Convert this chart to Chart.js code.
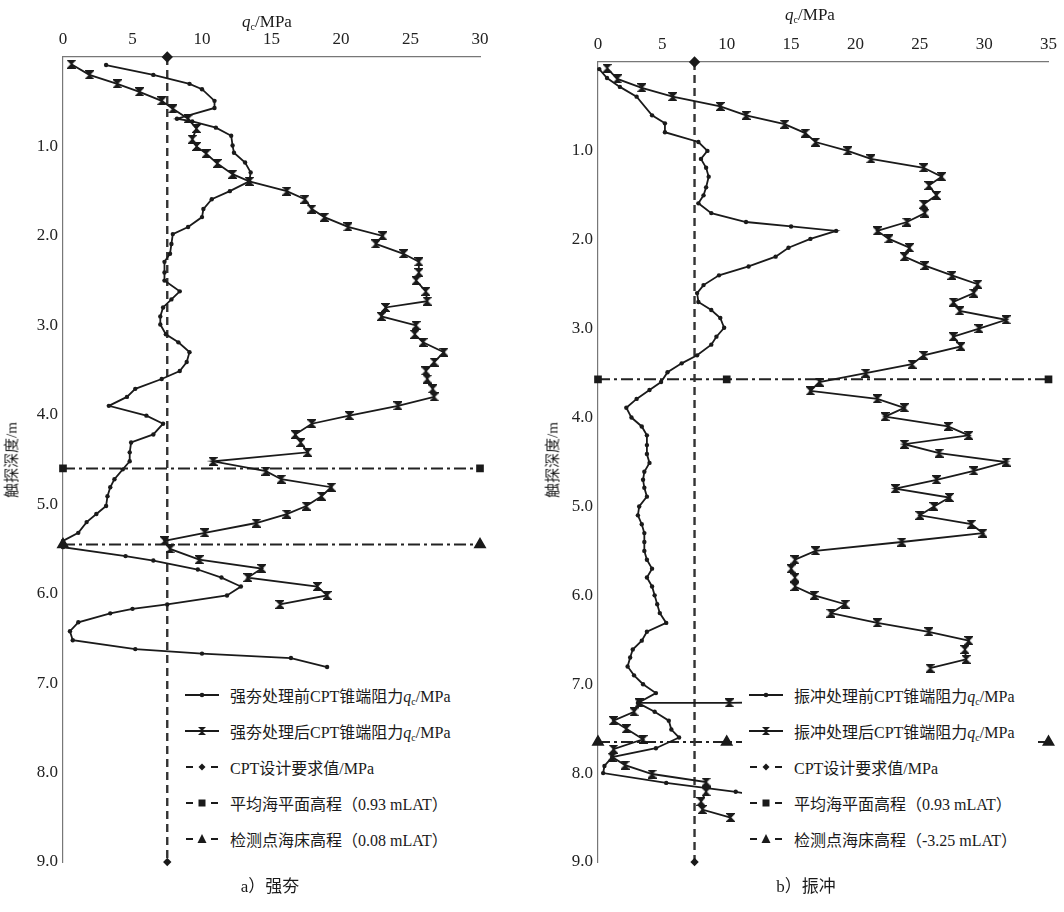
<!DOCTYPE html>
<html>
<head>
<meta charset="utf-8">
<script src="https://cdn.jsdelivr.net/npm/chart.js@4.4.1/dist/chart.umd.min.js"></script>
<style>
  body { margin: 0; background: #fff; }
  #wrap { position: relative; width: 1064px; height: 912px; overflow: hidden;
          font-family: 'Liberation Serif', 'Noto Sans CJK SC', serif; color: #1a1a1a; }
  #wrap canvas { position: absolute; top: 0; }
  .txt { position: absolute; white-space: nowrap; line-height: 1; }
  .ctr { transform: translate(-50%, -50%); }
  .vert { transform: translate(-50%, -50%) rotate(-90deg); }
  .legend { position: absolute; background: #fff; }
  .legend .row { display: flex; align-items: center; height: 36px; font-size: 16px; white-space: nowrap; }
  .legend svg { flex: none; margin: 0 10px 0 6px; }
  sub { font-size: 10px; vertical-align: -3px; line-height: 0; }
  i { font-style: italic; }
</style>
</head>
<body>
<div id="wrap">
  <canvas id="cLeft" width="520" height="880" style="left:0px"></canvas>
  <canvas id="cRight" width="534" height="880" style="left:530px"></canvas>

  <div class="txt ctr" style="left:267px;top:21px;font-size:17px"><i>q</i><sub>c</sub>/MPa</div>
  <div class="txt ctr" style="left:810px;top:14px;font-size:17px"><i>q</i><sub>c</sub>/MPa</div>
  <div class="txt vert" style="left:12px;top:460px;font-size:15px">触探深度/m</div>
  <div class="txt vert" style="left:553px;top:460px;font-size:15px">触探深度/m</div>
  <div class="txt ctr" style="left:270px;top:886px;font-size:17px">a）强夯</div>
  <div class="txt ctr" style="left:806px;top:886px;font-size:17px">b）振冲</div>

  <div id="legLeft" class="legend" style="left:178px;top:677px;width:322px;height:185px"></div>
  <div id="legRight" class="legend" style="left:742px;top:677px;width:296px;height:185px"></div>
</div>

<script>
// ---- 强夯 (dynamic compaction) CPT profile: depth in m, cone resistance qc in MPa ----
const leftDepthBefore = [0.09,0.20,0.30,0.36,0.49,0.57,0.69,0.72,0.79,0.88,
  0.99,1.07,1.18,1.29,1.39,1.50,1.59,1.70,1.79,1.90,
  1.98,2.09,2.20,2.29,2.41,2.50,2.62,2.71,2.80,2.90,
  2.99,3.10,3.19,3.30,3.41,3.51,3.60,3.71,3.80,3.90,
  4.01,4.10,4.22,4.31,4.42,4.52,4.61,4.72,4.81,4.91,
  5.02,5.11,5.20,5.32,5.41,5.48,5.58,5.63,5.73,5.82,
  5.92,6.02,6.12,6.17,6.22,6.32,6.42,6.52,6.62,6.67,
  6.72,6.82];
const leftQcBefore = [3.1,6.5,9.1,10.0,10.9,10.9,8.2,9.3,11.0,12.1,
  12.2,12.3,13.1,13.5,13.4,12.0,10.7,10.1,10.0,9.0,
  7.9,7.8,7.7,7.3,7.3,7.3,8.4,7.8,7.2,7.0,
  7.0,7.4,8.3,9.1,8.9,8.4,7.1,5.2,4.6,3.3,
  6.0,7.2,6.5,4.9,4.8,4.8,4.3,3.7,3.4,3.2,
  3.1,2.4,1.7,1.1,0.0,0.0,4.5,6.5,9.7,11.4,
  12.8,11.8,7.5,5.0,3.4,1.1,0.5,0.7,5.2,10.0,
  16.4,19.0];
const leftDepthAfter = [0.08,0.20,0.30,0.39,0.49,0.58,0.69,0.80,0.92,1.00,
  1.08,1.19,1.31,1.39,1.50,1.59,1.70,1.79,1.90,2.00,
  2.09,2.20,2.29,2.41,2.50,2.62,2.73,2.80,2.90,3.00,
  3.10,3.19,3.30,3.41,3.51,3.60,3.71,3.80,3.90,4.01,
  4.10,4.22,4.31,4.42,4.52,4.63,4.72,4.81,4.91,5.02,
  5.11,5.21,5.32,5.41,5.50,5.62,5.72,5.82,5.92,6.02,
  6.12];
const leftQcAfter = [0.6,1.9,3.9,5.5,7.1,7.9,9.0,9.6,9.3,9.6,
  10.3,11.1,12.2,13.4,16.1,17.4,17.9,18.8,20.5,23.0,
  22.5,24.5,25.6,25.6,25.4,26.1,26.2,23.2,22.9,25.4,
  25.3,25.9,27.4,26.7,26.1,26.2,26.6,26.7,24.1,20.6,
  17.9,16.7,17.1,17.6,10.8,14.6,15.7,19.3,18.6,17.5,
  16.1,13.9,10.2,7.3,7.7,9.8,14.3,13.3,18.3,19.0,
  15.6];
const leftDesignQc = 7.5;
const leftSeaLevelDepth = 4.60;   // 平均海平面 0.93 mLAT
const leftSeabedDepth = 5.45;     // 海床 0.08 mLAT
const leftRefMarkQc = [0, 30];
const leftQcMax = 30;
const leftLabels = ['强夯处理前CPT锥端阻力q_c/MPa', '强夯处理后CPT锥端阻力q_c/MPa',
  'CPT设计要求值/MPa', '平均海平面高程（0.93 mLAT）', '检测点海床高程（0.08 mLAT）'];

// ---- 振冲 (vibro-compaction) CPT profile ----
const rightDepthBefore = [0.08,0.18,0.28,0.39,0.60,0.69,0.79,0.90,1.00,1.09,
  1.19,1.29,1.41,1.50,1.59,1.70,1.80,1.85,1.90,1.99,
  2.09,2.19,2.30,2.40,2.51,2.60,2.70,2.79,2.88,2.99,
  3.09,3.18,3.30,3.39,3.49,3.60,3.69,3.79,3.89,4.00,
  4.10,4.20,4.31,4.41,4.51,4.61,4.70,4.79,4.89,5.00,
  5.10,5.20,5.30,5.40,5.50,5.60,5.70,5.80,5.90,6.00,
  6.10,6.20,6.31,6.41,6.51,6.61,6.70,6.80,6.90,7.00,
  7.10,7.21,7.31,7.41,7.51,7.60,7.72,7.82,7.92,8.00,
  8.11,8.21,8.30];
const rightQcBefore = [0.1,0.7,1.7,3.0,4.2,5.2,5.2,7.8,8.5,8.0,
  8.4,8.6,8.4,8.2,7.8,8.8,11.5,15.0,18.5,16.5,
  14.8,13.8,11.7,9.4,8.2,7.7,7.8,8.8,9.5,9.8,
  9.2,8.8,7.7,6.5,5.4,4.9,4.0,3.0,2.2,2.6,
  3.4,3.8,3.8,3.8,4.0,3.6,3.5,3.6,3.8,3.2,
  3.1,3.4,3.6,3.6,3.6,3.8,4.2,3.8,4.2,4.4,
  4.6,4.8,5.3,3.8,3.4,2.7,2.5,2.3,2.8,3.5,
  4.5,3.1,4.4,5.5,5.7,6.3,4.5,1.1,0.5,0.4,
  5.3,10.7,14.5];
const rightDepthAfter = [0.07,0.19,0.29,0.39,0.50,0.60,0.70,0.80,0.90,1.00,
  1.09,1.19,1.29,1.39,1.50,1.60,1.70,1.80,1.90,1.99,
  2.09,2.19,2.29,2.40,2.50,2.60,2.70,2.80,2.90,3.00,
  3.09,3.20,3.30,3.40,3.50,3.60,3.70,3.79,3.89,3.99,
  4.10,4.20,4.30,4.40,4.50,4.60,4.70,4.80,4.90,5.00,
  5.10,5.20,5.30,5.40,5.50,5.60,5.70,5.80,5.90,6.00,
  6.10,6.20,6.31,6.41,6.51,6.61,6.72,6.82,null,7.20,
  7.21,7.21,7.31,7.41,7.50,7.62,7.73,7.82,7.91,8.01,
  8.10,8.21,8.32,8.41,8.50];
const rightQcAfter = [0.7,1.5,3.4,5.8,9.5,11.5,14.5,16.1,16.9,19.4,
  21.2,25.3,26.7,25.7,26.3,25.3,25.4,24.0,21.7,22.6,
  24.2,23.8,25.4,27.5,29.5,29.2,27.6,28.1,31.7,29.6,
  27.6,28.2,25.3,24.4,20.8,17.2,16.5,21.7,23.8,22.3,
  27.2,28.8,23.8,26.5,31.7,29.2,26.3,23.1,27.3,26.1,
  25.0,29.0,29.9,23.6,16.9,15.3,15.0,15.3,15.3,16.8,
  19.2,18.1,21.7,25.7,28.8,28.5,28.6,25.8,null,14.5,
  10.2,3.2,2.8,1.2,2.2,3.5,1.2,1.1,2.1,4.2,
  8.4,8.4,8.0,8.1,10.3];
const rightDesignQc = 7.5;
const rightSeaLevelDepth = 3.57;  // 平均海平面 0.93 mLAT
const rightSeabedDepth = 7.65;    // 海床 -3.25 mLAT
const rightRefMarkQc = [0, 10, 35];
const rightQcMax = 35;
const rightLabels = ['振冲处理前CPT锥端阻力q_c/MPa', '振冲处理后CPT锥端阻力q_c/MPa',
  'CPT设计要求值/MPa', '平均海平面高程（0.93 mLAT）', '检测点海床高程（-3.25 mLAT）'];

const depthTicksMax = 9;
const INK = '#1a1a1a';
const SERIF = "'Liberation Serif', 'Times New Roman', serif";

// filled hourglass marker used for the post-treatment profiles
function hourglassMarker() {
  const c = document.createElement('canvas');
  c.width = 9; c.height = 9;
  const g = c.getContext('2d');
  g.fillStyle = INK; g.strokeStyle = INK; g.lineWidth = 1.2;
  g.beginPath();
  g.moveTo(0.5, 0.5); g.lineTo(8.5, 0.5); g.lineTo(4.5, 4.5); g.closePath();
  g.moveTo(4.5, 4.5); g.lineTo(8.5, 8.5); g.lineTo(0.5, 8.5); g.closePath();
  g.fill();
  g.stroke();
  return c;
}
const HOURGLASS = hourglassMarker();

function pairs(depths, qcs) {
  return depths.map((d, i) => (d === null || qcs[i] === null) ? { x: null, y: null } : { x: qcs[i], y: d });
}
function horiz(depth, qcList) { return qcList.map(q => ({ x: q, y: depth })); }

function buildDatasets(p) {
  return [
    { label: p.labels[0], data: pairs(p.depthBefore, p.qcBefore), showLine: true,
      borderColor: INK, borderWidth: 1.8, pointStyle: 'circle', pointRadius: 2.2,
      pointBackgroundColor: INK, pointBorderColor: INK, pointBorderWidth: 0, spanGaps: false, clip: false },
    { label: p.labels[1], data: pairs(p.depthAfter, p.qcAfter), showLine: true,
      borderColor: INK, borderWidth: 1.8, pointStyle: HOURGLASS, pointRadius: 4,
      pointBackgroundColor: INK, pointBorderColor: INK, spanGaps: false, clip: false, legendMarker: 'hourglass' },
    { label: p.labels[2], data: [{ x: p.design, y: 0 }, { x: p.design, y: depthTicksMax }], showLine: true,
      borderColor: '#333', borderWidth: 2.4, borderDash: [8, 5], pointStyle: 'rectRot', pointRadius: [4, 2.5],
      pointBackgroundColor: INK, pointBorderColor: INK, clip: false },
    { label: p.labels[3], data: horiz(p.seaDepth, p.refQc), showLine: true,
      borderColor: '#222', borderWidth: 2, borderDash: [12, 4, 3, 4], pointStyle: 'rect', pointRadius: 4,
      pointBackgroundColor: INK, pointBorderColor: INK, clip: false },
    { label: p.labels[4], data: horiz(p.seabedDepth, p.refQc), showLine: true,
      borderColor: '#222', borderWidth: 2, borderDash: [12, 4, 3, 4], pointStyle: 'triangle', pointRadius: 5.5,
      pointBackgroundColor: INK, pointBorderColor: INK, clip: false }
  ];
}

// HTML legend rows built from the chart's datasets
const SVGNS = 'http://www.w3.org/2000/svg';
function svgEl(tag, attrs) {
  const e = document.createElementNS(SVGNS, tag);
  for (const k in attrs) e.setAttribute(k, attrs[k]);
  return e;
}
function legendSample(ds) {
  const svg = svgEl('svg', { width: 36, height: 14 });
  const dashed = !!ds.borderDash;
  if (dashed) {
    svg.appendChild(svgEl('line', { x1: 2, y1: 7, x2: 9, y2: 7, stroke: INK, 'stroke-width': 2 }));
    svg.appendChild(svgEl('line', { x1: 27, y1: 7, x2: 34, y2: 7, stroke: INK, 'stroke-width': 2 }));
  } else {
    svg.appendChild(svgEl('line', { x1: 1, y1: 7, x2: 35, y2: 7, stroke: INK, 'stroke-width': 1.8 }));
  }
  const s = ds.legendMarker || ds.pointStyle;
  if (s === 'circle') svg.appendChild(svgEl('circle', { cx: 18, cy: 7, r: 2.3, fill: INK }));
  else if (s === 'hourglass') svg.appendChild(svgEl('path', { d: 'M14 3 L22 3 L18 7 Z M18 7 L22 11 L14 11 Z', fill: INK }));
  else if (s === 'rectRot') svg.appendChild(svgEl('polygon', { points: '18,3.5 21.5,7 18,10.5 14.5,7', fill: INK }));
  else if (s === 'rect') svg.appendChild(svgEl('rect', { x: 14.5, y: 3.5, width: 7, height: 7, fill: INK }));
  else if (s === 'triangle') svg.appendChild(svgEl('polygon', { points: '18,2 22.5,11 13.5,11', fill: INK }));
  return svg;
}
function fillLabel(el, text) {
  const parts = text.split('q_c');
  parts.forEach((part, i) => {
    if (i > 0) {
      const q = document.createElement('i'); q.textContent = 'q'; el.appendChild(q);
      const c = document.createElement('sub'); c.textContent = 'c'; el.appendChild(c);
    }
    el.appendChild(document.createTextNode(part));
  });
}
const htmlLegend = {
  id: 'htmlLegend',
  afterUpdate(chart, args, opts) {
    const box = document.getElementById(opts.containerID);
    box.innerHTML = '';
    chart.data.datasets.forEach(ds => {
      const row = document.createElement('div');
      row.className = 'row';
      row.appendChild(legendSample(ds));
      const span = document.createElement('span');
      fillLabel(span, ds.label);
      row.appendChild(span);
      box.appendChild(row);
    });
  }
};

function makePanel(canvasId, p) {
  return new Chart(document.getElementById(canvasId), {
    type: 'scatter',
    data: { datasets: buildDatasets(p) },
    options: {
      responsive: false,
      animation: false,
      layout: { padding: { left: 0, top: 0, right: p.padRight, bottom: p.padBottom } },
      plugins: {
        legend: { display: false },
        tooltip: { enabled: false },
        htmlLegend: { containerID: p.legendId }
      },
      scales: {
        x: {
          type: 'linear', position: 'top', min: 0, max: p.qcMax,
          ticks: { stepSize: 5, padding: 7, color: '#222', font: { family: SERIF, size: 17 }, maxRotation: 0, autoSkip: false },
          grid: { display: false, drawTicks: false },
          border: { display: true, color: '#777', width: 1.2 },
          afterFit: s => { s.height = p.axisTop; }
        },
        y: {
          type: 'linear', reverse: true, min: 0, max: depthTicksMax,
          ticks: { stepSize: 1, padding: 5, color: '#222', font: { family: SERIF, size: 17 },
                   callback: v => v === 0 ? '' : v.toFixed(1) },
          grid: { display: false, drawTicks: false },
          border: { display: true, color: '#777', width: 1.2 },
          afterFit: s => { s.width = p.axisLeft; }
        }
      }
    },
    plugins: [htmlLegend]
  });
}

makePanel('cLeft', {
  labels: leftLabels, depthBefore: leftDepthBefore, qcBefore: leftQcBefore,
  depthAfter: leftDepthAfter, qcAfter: leftQcAfter, design: leftDesignQc,
  seaDepth: leftSeaLevelDepth, seabedDepth: leftSeabedDepth, refQc: leftRefMarkQc,
  qcMax: leftQcMax, legendId: 'legLeft',
  axisLeft: 63, axisTop: 57, padRight: 40, padBottom: 18
});
makePanel('cRight', {
  labels: rightLabels, depthBefore: rightDepthBefore, qcBefore: rightQcBefore,
  depthAfter: rightDepthAfter, qcAfter: rightQcAfter, design: rightDesignQc,
  seaDepth: rightSeaLevelDepth, seabedDepth: rightSeabedDepth, refQc: rightRefMarkQc,
  qcMax: rightQcMax, legendId: 'legRight',
  axisLeft: 68, axisTop: 62, padRight: 11, padBottom: 18
});
</script>
</body>
</html>
